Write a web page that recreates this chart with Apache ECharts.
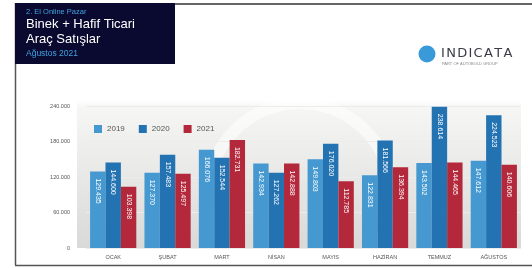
<!DOCTYPE html>
<html>
<head>
<meta charset="utf-8">
<script src="https://cdn.jsdelivr.net/npm/echarts@6/dist/echarts.min.js"></script>
<style>
  html, body { margin: 0; padding: 0; background: #fff; }
  #chart { width: 532px; height: 268px; }
</style>
</head>
<body>
<div id="chart"></div>
<script>
const months = ['OCAK', 'ŞUBAT', 'MART', 'NİSAN', 'MAYIS', 'HAZİRAN', 'TEMMUZ', 'AĞUSTOS']
const sales2019 = [129435, 127370, 166076, 142934, 149803, 122831, 143502, 147612]
const sales2020 = [144600, 157483, 152544, 127262, 176020, 181566, 238614, 224523]
const sales2021 = [103398, 125497, 182731, 142888, 112785, 136394, 144465, 140606]
const yTicks = [0, 60000, 120000, 180000, 240000]

// 1234567 -> 1.234.567
function fmt(v) {
  return String(v).replace(/\B(?=(\d{3})+(?!\d))/g, '.')
}

const barLabel = {
  show: true,
  position: 'insideTop',
  rotate: -90,
  align: 'left',
  verticalAlign: 'middle',
  distance: 7,
  color: '#fff',
  fontSize: 7,
  fontFamily: 'Liberation Sans',
  formatter: p => fmt(p.value)
}

function bar(name, data, color) {
  return {
    name: name,
    type: 'bar',
    data: data,
    barGap: '0%',
    barCategoryGap: '15%',
    itemStyle: { color: color },
    label: barLabel,
    animation: false
  }
}

const chart = echarts.init(document.getElementById('chart'))
chart.setOption({
  backgroundColor: '#fff',
  textStyle: { fontFamily: 'Liberation Sans' },
  grid: {
    left: 86, right: 11, top: 106, bottom: 20,
    show: true,
    borderWidth: 0,
    backgroundColor: 'transparent'
  },
  legend: {
    left: 89, top: 120,
    itemWidth: 8, itemHeight: 8, itemGap: 14,
    icon: 'rect',
    textStyle: { fontSize: 8, color: '#555' },
    data: ['2019', '2020', '2021']
  },
  xAxis: {
    type: 'category',
    data: months,
    axisLine: { show: false },
    axisTick: { show: false },
    axisLabel: { fontSize: 5.5, color: '#555', margin: 6 }
  },
  yAxis: {
    type: 'value',
    min: yTicks[0],
    max: yTicks[yTicks.length - 1],
    interval: 60000,
    axisLabel: { fontSize: 5.5, color: '#555', margin: 16, formatter: v => fmt(v) },
    splitLine: { lineStyle: { color: '#ececec', width: 1 } }
  },
  graphic: [
    // plot background + faint watermark ring
    {
      type: 'rect', z: -10, shape: { x: 77, y: 100, width: 444, height: 148 },
      style: {
        fill: new echarts.graphic.LinearGradient(0, 0, 0, 1, [
          { offset: 0, color: '#ffffff' },
          { offset: 0.05, color: '#f6f6f5' },
          { offset: 1, color: '#d9dad7' }
        ])
      }
    },
    { type: 'circle', z: -9, shape: { cx: 300, cy: 195, r: 92 }, style: { fill: 'none', stroke: '#ffffff', lineWidth: 12, opacity: 0.55 } },
    // frame
    { type: 'line', shape: { x1: 15.5, y1: 3, x2: 15.5, y2: 265 }, style: { stroke: '#555', lineWidth: 1.5 } },
    { type: 'line', shape: { x1: 15, y1: 265.5, x2: 532, y2: 265.5 }, style: { stroke: '#555', lineWidth: 1.5 } },
    { type: 'line', shape: { x1: 175, y1: 4, x2: 532, y2: 4 }, style: { stroke: '#666', lineWidth: 2 } },
    // title block
    { type: 'rect', shape: { x: 15, y: 3, width: 160, height: 61 }, style: { fill: '#0a0a30' } },
    { type: 'text', left: 26, top: 8, style: { text: '2. El Online Pazar', fill: '#3fa3e0', fontSize: 7.5 } },
    { type: 'text', left: 26, top: 18, style: { text: 'Binek + Hafif Ticari', fill: '#fff', fontSize: 13 } },
    { type: 'text', left: 26, top: 33, style: { text: 'Araç Satışlar', fill: '#fff', fontSize: 13 } },
    { type: 'text', left: 26, top: 49, style: { text: 'Ağustos 2021', fill: '#3fa3e0', fontSize: 8.5 } },
    // logo
    { type: 'circle', shape: { cx: 427, cy: 54, r: 8.5 }, style: { fill: '#3a9ad9' } },
    { type: 'text', left: 441, top: 47, style: { text: 'I\u200AN\u200AD\u200AI\u200AC\u200AA\u200AT\u200AA', fill: '#3a3a48', fontSize: 13, fontFamily: 'DejaVu Sans' } },
    { type: 'text', left: 442, top: 62, style: { text: 'PART OF AUTOBOLD GROUP', fill: '#888', fontSize: 4 } }
  ],
  series: [
    bar('2019', sales2019, '#4599d0'),
    bar('2020', sales2020, '#2373b3'),
    bar('2021', sales2021, '#b3283a')
  ]
})
</script>
</body>
</html>
